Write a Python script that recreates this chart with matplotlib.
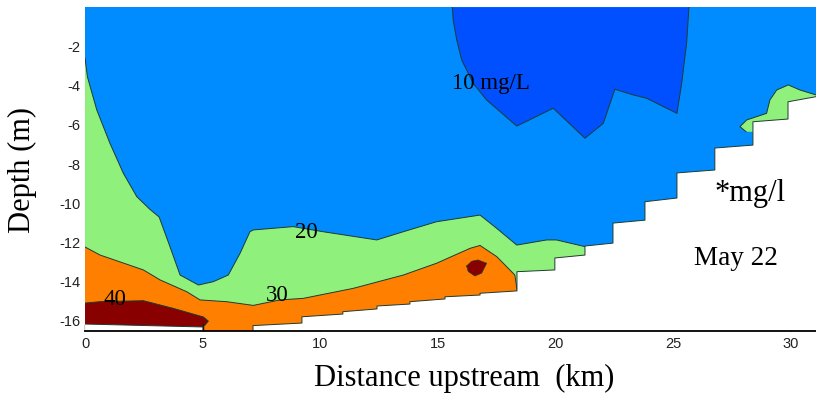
import matplotlib.pyplot as plt

# distance upstream (km) and depth (m, negative down)
x_max = 31.07
z_min = -16.5

# river bed, stepped as on the model grid
bed_km = [0, 5.01, 5.01, 7.14, 7.14, 9.22, 9.22, 10.96, 10.96, 12.41, 12.41,
          13.81, 13.81, 15.30, 15.30, 16.79, 16.79, 18.36, 18.36, 19.97, 19.97,
          21.25, 21.25, 22.44, 22.44, 23.80, 23.80, 25.16, 25.16, 26.77, 26.77,
          28.39, 28.39, 29.88, 29.88, 31.07]
bed_z = [-16.16, -16.31, -16.70, -16.70, -16.24, -16.11, -15.79, -15.65, -15.53,
         -15.39, -15.24, -15.14, -15.02, -14.88, -14.77, -14.68, -14.59, -14.47,
         -13.49, -13.40, -12.79, -12.64, -12.18, -12.03, -11.01, -10.86, -9.92,
         -9.73, -8.45, -8.30, -7.18, -7.03, -5.84, -5.70, -4.82, -4.56]

# 10 mg/L contour (low concentration core near the surface)
iso10_km = [15.61, 15.65, 15.80, 16.01, 16.50, 17.07, 18.35, 19.90, 21.25,
            22.03, 22.52, 23.30, 23.87, 25.16, 25.36, 25.57, 25.67]
iso10_z = [0.0, -0.65, -1.67, -2.69, -3.88, -4.73, -6.06, -5.15, -6.68,
           -5.92, -4.18, -4.47, -4.64, -5.41, -3.88, -1.84, 0.0]

# 20 mg/L contour
iso20_km = [0.0, 0.10, 0.50, 1.06, 1.63, 2.20, 2.75, 3.15, 3.61, 4.04, 4.82,
            5.45, 6.09, 6.59, 7.01, 7.15, 8.85, 10.12, 12.40, 13.53, 14.94,
            16.79, 17.50, 18.35, 19.62, 20.04, 21.25]
iso20_z = [-2.59, -3.54, -5.24, -6.94, -8.47, -9.66, -10.30, -10.70, -12.21,
           -13.66, -14.17, -14.00, -13.66, -12.55, -11.45, -11.36, -11.19,
           -11.45, -11.87, -11.45, -10.94, -10.60, -11.28, -12.13, -11.87,
           -11.87, -12.21]

# 20 mg/L patch against the bed near the upstream end
patch20_km = [28.39, 28.10, 27.84, 28.12, 28.97, 29.11, 29.40, 29.89, 30.39,
              31.07]
patch20_z = [-6.35, -6.35, -6.09, -5.75, -5.41, -4.73, -4.22, -3.96, -4.22,
             -4.47]

# 30 mg/L contour
iso30_km = [0.0, 0.64, 2.48, 3.19, 4.32, 4.89, 6.02, 7.15, 8.29, 9.28, 11.40,
            13.53, 14.94, 16.36, 16.79, 17.50, 18.27, 18.36]
iso30_z = [-12.23, -12.64, -13.40, -13.91, -14.51, -14.93, -15.02, -15.21,
           -14.93, -14.85, -14.34, -13.66, -13.06, -12.30, -12.15, -12.72,
           -13.66, -14.40]

# 40 mg/L contour
iso40_km = [0.0, 0.64, 2.48, 3.75, 5.03, 5.24, 5.10, 5.01]
iso40_z = [-15.09, -15.02, -14.97, -15.36, -15.80, -16.01, -16.21, -16.31]

# small 40 mg/L pocket
pocket40_km = [16.22, 16.43, 16.70, 17.07, 16.86, 16.57, 16.29]
pocket40_z = [-13.20, -12.96, -12.89, -13.06, -13.56, -13.71, -13.48]

c_low = "#0050ff"
c_10 = "#008cff"
c_20 = "#90f07c"
c_30 = "#ff8000"
c_40 = "#880000"
c_line = "#1e3a30"

plt.rcParams["axes.unicode_minus"] = False

fig = plt.figure(figsize=(8.16, 3.95), dpi=100)
ax = fig.add_axes([0.1042, 0.1628, 0.8958, 0.8187])
ax.set_facecolor(c_10)

deep = z_min - 1

ax.fill(iso20_km + [iso20_km[-1], 0], iso20_z + [deep, deep],
        color=c_20, lw=0)
ax.fill(patch20_km + [x_max, patch20_km[0]], patch20_z + [deep, deep],
        color=c_20, lw=0)
ax.fill(iso30_km + [iso30_km[-1], 0], iso30_z + [deep, deep],
        color=c_30, lw=0)
ax.fill(iso40_km + [iso40_km[-1], 0], iso40_z + [deep, deep],
        color=c_40, lw=0)
ax.fill(pocket40_km, pocket40_z, color=c_40, lw=0)
ax.fill(iso10_km, iso10_z, color=c_low, lw=0)

for xs, zs in [(iso10_km, iso10_z), (iso20_km, iso20_z),
               (patch20_km[1:], patch20_z[1:]), (iso30_km, iso30_z),
               (iso40_km, iso40_z)]:
    ax.plot(xs, zs, color=c_line, lw=0.7)
ax.plot(pocket40_km + pocket40_km[:1], pocket40_z + pocket40_z[:1],
        color=c_line, lw=0.5)

# everything below the bed is blanked out
ax.fill(bed_km + [x_max, 0], bed_z + [deep, deep], color="white", lw=0,
        zorder=3)
ax.plot(bed_km, bed_z, color=c_line, lw=0.7, zorder=3)

ax.set_xlim(0, x_max)
ax.set_ylim(z_min, 0)

serif = "Liberation Serif"
ax.text(15.6, -4.17, "10 mg/L", family=serif, fontsize=16.5, zorder=4)
ax.text(8.92, -11.77, "20", family=serif, fontsize=16.5, zorder=4)
ax.text(7.7, -14.96, "30", family=serif, fontsize=16.5, zorder=4)
ax.text(0.8, -15.2, "40", family=serif, fontsize=16.5, zorder=4)
ax.text(26.77, -9.88, "*mg/l", family=serif, fontsize=22, zorder=4)
ax.text(25.88, -13.16, "May 22", family=serif, fontsize=19.5, zorder=4)

ax.set_xticks(range(0, 31, 5))
ax.set_yticks(range(-16, -1, 2))
ax.tick_params(axis="x", direction="in", length=5, width=1, pad=4.5,
               labelsize=10.5, labelcolor="#222222")
ax.tick_params(axis="y", length=0, pad=3.5, labelsize=10.5,
               labelcolor="#222222")
for lab in ax.get_xticklabels() + ax.get_yticklabels():
    lab.set_family("Liberation Sans")

for side in ["top", "right", "left"]:
    ax.spines[side].set_visible(False)
ax.spines["bottom"].set_linewidth(1.3)
ax.spines["bottom"].set_zorder(5)

fig.text(464.5 / 816, 1 - 386 / 395, "Distance upstream  (km)", family=serif,
         fontsize=22, ha="center", va="baseline")
fig.text(37 / 816, 1 - 170 / 395, "Depth (m)", family=serif, fontsize=22,
         rotation=90, ha="right", va="center")

fig.savefig("out.png", dpi=100)
